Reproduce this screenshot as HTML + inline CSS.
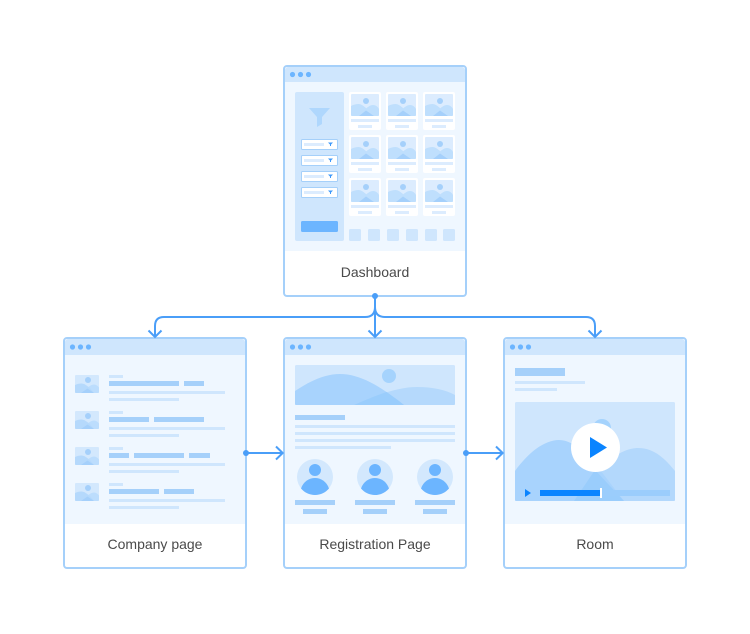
<!DOCTYPE html>
<html>
<head>
<meta charset="utf-8">
<style>
html,body{margin:0;padding:0;background:#fff;width:750px;height:634px;overflow:hidden}
svg{display:block}
text{font-family:"Liberation Sans",sans-serif;font-size:14px;fill:#4a4a4a;text-anchor:middle}
</style>
</head>
<body>
<svg width="750" height="634" viewBox="0 0 750 634" xmlns="http://www.w3.org/2000/svg">
<defs>
<symbol id="frameA" overflow="visible">
  <rect x="0" y="0" width="182" height="230" rx="3" fill="#fff"/>
  <path d="M1 16H181V185H1Z" fill="#eff7ff"/>
  <path d="M1 4a3 3 0 0 1 3-3H178a3 3 0 0 1 3 3V16H1Z" fill="#cfe6fd"/>
  <rect x="0" y="0" width="182" height="230" rx="3" fill="none" stroke="#a5d0fa" stroke-width="2"/>
  <circle cx="8.500" cy="8.500" r="2.600" fill="#6cb5ff"/>
  <circle cx="16.500" cy="8.500" r="2.600" fill="#6cb5ff"/>
  <circle cx="24.500" cy="8.500" r="2.600" fill="#6cb5ff"/>
</symbol>
<symbol id="frameB" overflow="visible">
  <rect x="0" y="0" width="182" height="230" rx="3" fill="#fff"/>
  <path d="M1 17H181V186H1Z" fill="#eff7ff"/>
  <path d="M1 4a3 3 0 0 1 3-3H178a3 3 0 0 1 3 3V17H1Z" fill="#cfe6fd"/>
  <rect x="0" y="0" width="182" height="230" rx="3" fill="none" stroke="#a5d0fa" stroke-width="2"/>
  <circle cx="8.500" cy="9" r="2.600" fill="#6cb5ff"/>
  <circle cx="16.500" cy="9" r="2.600" fill="#6cb5ff"/>
  <circle cx="24.500" cy="9" r="2.600" fill="#6cb5ff"/>
</symbol>
<symbol id="thumb" overflow="visible">
  <rect width="32" height="38" rx="2" fill="#fff"/>
  <rect x="2" y="2" width="28" height="22" rx="1" fill="#dcecfe"/>
  <circle cx="17" cy="9" r="3" fill="#a5d0fb"/>
  <path d="M10 24C14 20 19 13 24 13C27 13 29 15 30 17V23a1 1 0 0 1-1 1Z" fill="#bfdffd"/>
  <path d="M2 14C5 12.500 7 12 9.500 12C14 12 19 18 25 24H3a1 1 0 0 1-1-1Z" fill="#bfdffd"/>
  <path d="M10 24L17 18.500L25 24Z" fill="#a5d0fb"/>
  <rect x="2" y="27" width="28" height="3" fill="#dcecfe"/>
  <rect x="9" y="33" width="14" height="3" fill="#dcecfe"/>
</symbol>
<symbol id="select" overflow="visible">
  <rect x="0.500" y="0.500" width="36" height="10" rx="1" fill="#fff" stroke="#a5d0fa"/>
  <rect x="3" y="4" width="20" height="3" fill="#dcecfe"/>
  <path d="M27 3.500H32L30 5.500V7H29V5.500Z" fill="#3d98fa"/>
</symbol>
<symbol id="pic" overflow="visible">
  <rect width="24" height="18" rx="1" fill="#d3e8fd"/>
  <circle cx="13" cy="5" r="3" fill="#a5d0fb"/>
  <path d="M6 18C10 15 15 9.500 19 9.500C21 9.500 23 11 24 12.500V17a1 1 0 0 1-1 1Z" fill="#bcddfd"/>
  <path d="M0 10C2 9 4 8.500 6.500 8.500C10.500 8.500 15 13 19 18H1a1 1 0 0 1-1-1Z" fill="#b5d9fc"/>
  <path d="M6 18L12.500 13.500L19 18Z" fill="#a5d0fb"/>
</symbol>
<symbol id="person" overflow="visible">
  <circle cx="0" cy="0" r="18" fill="#d3e8fd"/>
  <circle cx="0" cy="-7" r="6" fill="#6cb5ff"/>
  <path d="M-14 11.500C-11.500 4.500 -6 1 0 1C6 1 11.500 4.500 14 11.500C10.500 15.500 5.500 18 0 18C-5.500 18 -10.500 15.500 -14 11.500Z" fill="#6cb5ff"/>
  <rect x="-20" y="23" width="40" height="5" fill="#a5d0fa"/>
  <rect x="-12" y="32" width="24" height="5" fill="#a5d0fa"/>
</symbol>
</defs>

<!-- Dashboard -->
<use href="#frameA" x="284" y="66"/>
<rect x="295" y="92" width="49" height="149" rx="2" fill="#cfe6fd"/>
<path d="M309 108H330L322 117V124L317 127V117Z" fill="#afd7fd"/>
<use href="#select" x="301" y="139"/>
<use href="#select" x="301" y="155"/>
<use href="#select" x="301" y="171"/>
<use href="#select" x="301" y="187"/>
<rect x="301" y="221" width="37" height="11" rx="1.500" fill="#6cb5ff"/>
<use href="#thumb" x="349" y="92"/><use href="#thumb" x="386" y="92"/><use href="#thumb" x="423" y="92"/>
<use href="#thumb" x="349" y="135"/><use href="#thumb" x="386" y="135"/><use href="#thumb" x="423" y="135"/>
<use href="#thumb" x="349" y="178"/><use href="#thumb" x="386" y="178"/><use href="#thumb" x="423" y="178"/>
<g fill="#cfe6fd">
<rect x="349" y="229" width="12" height="12" rx="1.500"/>
<rect x="368" y="229" width="12" height="12" rx="1.500"/>
<rect x="387" y="229" width="12" height="12" rx="1.500"/>
<rect x="406" y="229" width="12" height="12" rx="1.500"/>
<rect x="425" y="229" width="12" height="12" rx="1.500"/>
<rect x="443" y="229" width="12" height="12" rx="1.500"/>
</g>
<text x="375" y="277">Dashboard</text>

<!-- Company page -->
<use href="#frameB" x="64" y="338"/>
<use href="#pic" x="75" y="375"/><use href="#pic" x="75" y="411"/><use href="#pic" x="75" y="447"/><use href="#pic" x="75" y="483"/>
<g fill="#cfe6fd">
<rect x="109" y="375" width="14" height="3"/><rect x="109" y="391" width="116" height="3"/><rect x="109" y="398" width="70" height="3"/>
<rect x="109" y="411" width="14" height="3"/><rect x="109" y="427" width="116" height="3"/><rect x="109" y="434" width="70" height="3"/>
<rect x="109" y="447" width="14" height="3"/><rect x="109" y="463" width="116" height="3"/><rect x="109" y="470" width="70" height="3"/>
<rect x="109" y="483" width="14" height="3"/><rect x="109" y="499" width="116" height="3"/><rect x="109" y="506" width="70" height="3"/>
</g>
<g fill="#a5d0fa">
<rect x="109" y="381" width="70" height="5"/><rect x="184" y="381" width="20" height="5"/>
<rect x="109" y="417" width="40" height="5"/><rect x="154" y="417" width="50" height="5"/>
<rect x="109" y="453" width="20" height="5"/><rect x="134" y="453" width="50" height="5"/><rect x="189" y="453" width="21" height="5"/>
<rect x="109" y="489" width="50" height="5"/><rect x="164" y="489" width="30" height="5"/>
</g>
<text x="155" y="549">Company page</text>

<!-- Registration Page -->
<use href="#frameB" x="284" y="338"/>
<rect x="295" y="365" width="160" height="40" rx="1.500" fill="#cfe6fd"/>
<circle cx="389" cy="376" r="7" fill="#a5d3fd"/>
<path d="M354 405C370 398 395 387 417 387C433 387 446 390 455 395V404a1 1 0 0 1-1 1Z" fill="#b5d9fc"/>
<path d="M295 391C310 381 325 374 340 374C360 374 380 386 404 405H296a1 1 0 0 1-1-1Z" fill="#a8d3fd"/>
<path d="M354 405C362 401.500 372 397 386.500 392C392 396 398 400 404 405Z" fill="#9acdfc"/>
<rect x="295" y="415" width="50" height="5" fill="#a5d0fa"/>
<g fill="#cfe6fd">
<rect x="295" y="425" width="160" height="3"/>
<rect x="295" y="432" width="160" height="3"/>
<rect x="295" y="439" width="160" height="3"/>
<rect x="295" y="446" width="96" height="3"/>
</g>
<use href="#person" x="315" y="477"/><use href="#person" x="375" y="477"/><use href="#person" x="435" y="477"/>
<text x="375" y="549">Registration Page</text>

<!-- Room -->
<use href="#frameB" x="504" y="338"/>
<rect x="515" y="368" width="50" height="8" fill="#a5d0fa"/>
<rect x="515" y="381" width="70" height="3" fill="#cfe6fd"/>
<rect x="515" y="388" width="42" height="3" fill="#cfe6fd"/>
<rect x="515" y="402" width="160" height="99" rx="1.500" fill="#cfe6fd"/>
<circle cx="602" cy="428" r="9" fill="#a5d3fd"/>
<path d="M574 501C590 485 610 448 638 448C655 448 666 460 675 471V500a1 1 0 0 1-1 1Z" fill="#b3d8fc"/>
<path d="M515 471C528 453 544 440 559 440C580 440 600 470 624 501H516a1 1 0 0 1-1-1Z" fill="#a8d3fd"/>
<path d="M574 501L595 470L624 501Z" fill="#9acdfc"/>
<circle cx="595.500" cy="447.500" r="24.500" fill="#fff"/>
<path d="M590 437L607 447.500L590 458Z" fill="#0a84ff"/>
<path d="M525 489L531 493L525 497Z" fill="#0a84ff"/>
<rect x="600" y="490" width="70" height="6" fill="#9bcdfc"/>
<rect x="540" y="490" width="60" height="6" fill="#0a84ff"/>
<rect x="600" y="488" width="2" height="10" fill="#fff"/>
<text x="595" y="549">Room</text>

<!-- Connectors -->
<g fill="none" stroke="#4a9ef8" stroke-width="2">
<path d="M375 296V336"/>
<path d="M375 307Q375 317 365 317H164Q155 317 155 326V336"/>
<path d="M375 307Q375 317 385 317H586Q595 317 595 326V336"/>
<path d="M148.500 330.500L155 337L161.500 330.500"/>
<path d="M368.500 330.500L375 337L381.500 330.500"/>
<path d="M588.500 330.500L595 337L601.500 330.500"/>
<path d="M246 453H283"/>
<path d="M276 446.500L282.700 453L276 459.500"/>
<path d="M466 453H503"/>
<path d="M496 446.500L502.700 453L496 459.500"/>
</g>
<circle cx="375" cy="296" r="3" fill="#4a9ef8"/>
<circle cx="246" cy="453" r="3" fill="#4a9ef8"/>
<circle cx="466" cy="453" r="3" fill="#4a9ef8"/>
</svg>
</body>
</html>
